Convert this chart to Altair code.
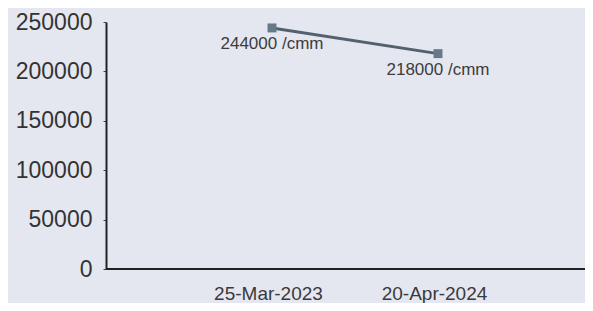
import altair as alt
import pandas as pd

dates = ["25-Mar-2023", "20-Apr-2024"]
values = [244000, 218000]
labels = ["244000 /cmm", "218000 /cmm"]
y_ticks = [0, 50000, 100000, 150000, 200000, 250000]

df = pd.DataFrame({"date": dates, "value": values, "label": labels})

x = alt.X(
    "date:N",
    sort=dates,
    scale=alt.Scale(type="point", domain=dates, range=[166, 332], padding=0),
    axis=alt.Axis(
        title=None, labelAngle=0, ticks=False, domain=False,
        labelFont="Liberation Sans", labelFontSize=19, labelColor="#3a3a3a",
        labelPadding=15, labelOffset=-4, grid=False,
    ),
)
y = alt.Y(
    "value:Q",
    scale=alt.Scale(domain=[0, 250000], nice=False),
    axis=alt.Axis(
        title=None, values=y_ticks, format="d", grid=False, ticks=True, tickSize=3,
        tickColor="#444", domainColor="#222", domainWidth=2,
        labelFont="Liberation Sans", labelFontSize=23, labelColor="#333",
        labelPadding=11,
    ),
)

base = alt.Chart(df)
xaxis_line = base.mark_rule(color="#222", strokeWidth=2).encode(
    x=alt.value(0), x2=alt.value(479), y=alt.value(247)
)
line = base.mark_line(color="#53616e", strokeWidth=3).encode(x=x, y=y)
pts = base.mark_point(shape="square", filled=True, size=80, color="#677886", opacity=1).encode(x=x, y=y)
txt = base.mark_text(
    dy=16, font="Liberation Sans", fontSize=17, color="#3c3c3c"
).encode(x=x, y=y, text="label:N")

chart = (
    alt.layer(xaxis_line, line, pts, txt)
    .properties(
        width=479, height=247,
        autosize=alt.AutoSizeParams(type="none"),
        padding={"left": 98, "top": 14, "right": 0, "bottom": 34},
        background="#e5e7f0",
    )
    .configure_view(stroke=None)
)

chart.save("out.html", embed_options={"renderer": "svg", "actions": False})
